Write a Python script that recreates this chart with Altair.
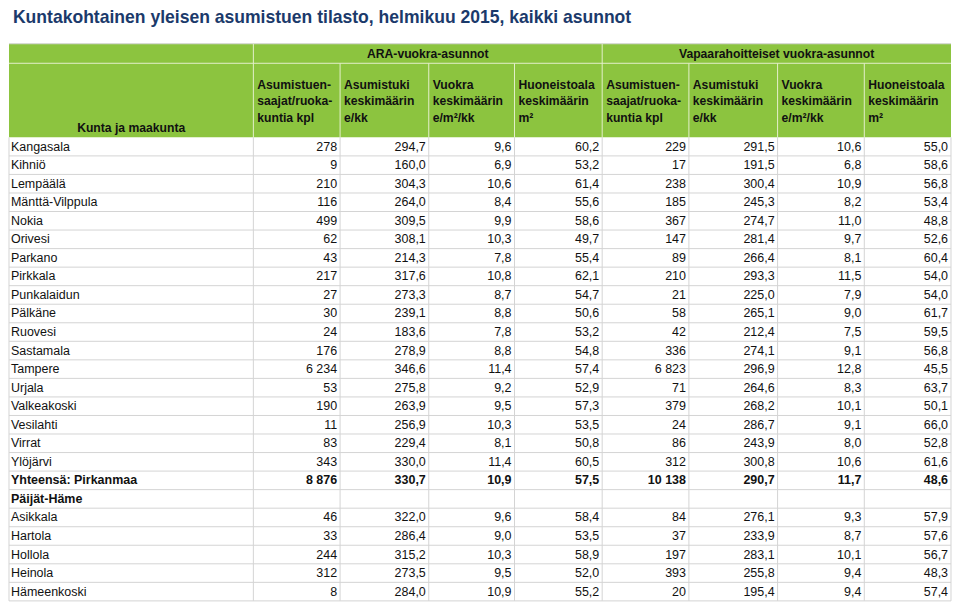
import altair as alt
import pandas as pd

# ---------------- data ----------------
title = "Kuntakohtainen yleisen asumistuen tilasto, helmikuu 2015, kaikki asunnot"
group_titles = ["ARA-vuokra-asunnot", "Vapaarahoitteiset vuokra-asunnot"]
first_header = "Kunta ja maakunta"
col_headers = [
    ["Asumistuen-", "saajat/ruoka-", "kuntia kpl"],
    ["Asumistuki", "keskimäärin", "e/kk"],
    ["Vuokra", "keskimäärin", "e/m²/kk"],
    ["Huoneistoala", "keskimäärin", "m²"],
]

names = ["Kangasala", "Kihniö", "Lempäälä", "Mänttä-Vilppula", "Nokia", "Orivesi",
         "Parkano", "Pirkkala", "Punkalaidun", "Pälkäne", "Ruovesi", "Sastamala",
         "Tampere", "Urjala", "Valkeakoski", "Vesilahti", "Virrat", "Ylöjärvi",
         "Yhteensä: Pirkanmaa", "Päijät-Häme", "Asikkala", "Hartola", "Hollola",
         "Heinola", "Hämeenkoski"]
ara_kpl = [278, 9, 210, 116, 499, 62, 43, 217, 27, 30, 24, 176, 6234, 53, 190, 11, 83, 343,
           8876, None, 46, 33, 244, 312, 8]
ara_tuki = [294.7, 160.0, 304.3, 264.0, 309.5, 308.1, 214.3, 317.6, 273.3, 239.1, 183.6, 278.9,
            346.6, 275.8, 263.9, 256.9, 229.4, 330.0, 330.7, None, 322.0, 286.4, 315.2, 273.5, 284.0]
ara_vuokra = [9.6, 6.9, 10.6, 8.4, 9.9, 10.3, 7.8, 10.8, 8.7, 8.8, 7.8, 8.8, 11.4, 9.2, 9.5,
              10.3, 8.1, 11.4, 10.9, None, 9.6, 9.0, 10.3, 9.5, 10.9]
ara_ala = [60.2, 53.2, 61.4, 55.6, 58.6, 49.7, 55.4, 62.1, 54.7, 50.6, 53.2, 54.8, 57.4, 52.9,
           57.3, 53.5, 50.8, 60.5, 57.5, None, 58.4, 53.5, 58.9, 52.0, 55.2]
vapaa_kpl = [229, 17, 238, 185, 367, 147, 89, 210, 21, 58, 42, 336, 6823, 71, 379, 24, 86, 312,
             10138, None, 84, 37, 197, 393, 20]
vapaa_tuki = [291.5, 191.5, 300.4, 245.3, 274.7, 281.4, 266.4, 293.3, 225.0, 265.1, 212.4, 274.1,
              296.9, 264.6, 268.2, 286.7, 243.9, 300.8, 290.7, None, 276.1, 233.9, 283.1, 255.8, 195.4]
vapaa_vuokra = [10.6, 6.8, 10.9, 8.2, 11.0, 9.7, 8.1, 11.5, 7.9, 9.0, 7.5, 9.1, 12.8, 8.3, 10.1,
                9.1, 8.0, 10.6, 11.7, None, 9.3, 8.7, 10.1, 9.4, 9.4]
vapaa_ala = [55.0, 58.6, 56.8, 53.4, 48.8, 52.6, 60.4, 54.0, 54.0, 61.7, 59.5, 56.8, 45.5, 63.7,
             50.1, 66.0, 52.8, 61.6, 48.6, None, 57.9, 57.6, 56.7, 48.3, 57.4]
bold_rows = ["Yhteensä: Pirkanmaa", "Päijät-Häme"]

columns = [ara_kpl, ara_tuki, ara_vuokra, ara_ala, vapaa_kpl, vapaa_tuki, vapaa_vuokra, vapaa_ala]
is_count = [True, False, False, False, True, False, False, False]

# ---------------- layout ----------------
W, H = 944, 592
col_edges = [2, 250, 338, 428, 515, 604, 692, 782, 870, 958]
TOP, MID, HEAD_B = 38, 58, 134
ROW_H = 19.02
N = len(names)
BOTTOM = HEAD_B + N * ROW_H

GREEN = "#8cc43f"
HEAD_LINE = "#e4efcb"
GRID = "#d4d4d4"
NAVY = "#1b3a6b"
FONT = "Liberation Sans"

xs = alt.Scale(domain=[2, 958], nice=False, zero=False)
ys = alt.Scale(domain=[4, 610], nice=False, zero=False, reverse=True)


def fmt(v, count):
    if v is None:
        return ""
    if count:
        return f"{int(v):,}".replace(",", " ")
    return f"{v:.1f}".replace(".", ",")


def text_layer(df, align, bold, size, color="#111111"):
    return alt.Chart(df).mark_text(
        align=align, baseline="middle", font=FONT, fontSize=size,
        fontWeight="bold" if bold else "normal", color=color
    ).encode(
        x=alt.X("x:Q", scale=xs, axis=None),
        y=alt.Y("y:Q", scale=ys, axis=None),
        text="t:N",
    )


# header background
bg = pd.DataFrame([{"x": col_edges[0], "x2": col_edges[-1], "y": TOP, "y2": HEAD_B}])
bg_layer = alt.Chart(bg).mark_rect(color=GREEN).encode(
    x=alt.X("x:Q", scale=xs, axis=None), x2="x2:Q",
    y=alt.Y("y:Q", scale=ys, axis=None), y2="y2:Q",
)

# lines
lines = []
lines.append(dict(x=col_edges[0], x2=col_edges[-1], y=TOP, y2=TOP, c=GRID))
lines.append(dict(x=col_edges[0], x2=col_edges[-1], y=MID, y2=MID, c=HEAD_LINE))
for e in col_edges[1:-1]:
    y_start = TOP if e in (250, 604) else MID
    lines.append(dict(x=e, x2=e, y=y_start, y2=HEAD_B, c=HEAD_LINE))
for k in range(1, N + 1):
    yy = HEAD_B + k * ROW_H
    lines.append(dict(x=col_edges[0], x2=col_edges[-1], y=yy, y2=yy, c=GRID))
for e in col_edges:
    lines.append(dict(x=e, x2=e, y=HEAD_B, y2=BOTTOM, c=GRID))
lines_df = pd.DataFrame(lines)
line_layer = alt.Chart(lines_df).mark_rule(strokeWidth=1).encode(
    x=alt.X("x:Q", scale=xs, axis=None), x2="x2:Q",
    y=alt.Y("y:Q", scale=ys, axis=None), y2="y2:Q",
    color=alt.Color("c:N", scale=None),
)

# title
title_df = pd.DataFrame([{"x": 6, "y": 11.5, "t": title}])
title_layer = text_layer(title_df, "left", True, 17.6, NAVY)

# header texts
head_center = [
    {"x": (col_edges[1] + col_edges[5]) / 2, "y": 48, "t": group_titles[0]},
    {"x": (col_edges[5] + col_edges[9]) / 2, "y": 48, "t": group_titles[1]},
    {"x": (col_edges[0] + col_edges[1]) / 2, "y": 124, "t": first_header},
]
head_left = []
line_y = [80, 97, 114]
for c in range(8):
    for j, txt in enumerate(col_headers[c % 4]):
        head_left.append({"x": col_edges[c + 1] + 4, "y": line_y[j], "t": txt})
head_center_layer = text_layer(pd.DataFrame(head_center), "center", True, 12.2)
head_left_layer = text_layer(pd.DataFrame(head_left), "left", True, 12.2)

# body texts
name_norm, name_bold, num_norm, num_bold = [], [], [], []
for i, nm in enumerate(names):
    yc = HEAD_B + (i + 0.5) * ROW_H
    bold = nm in bold_rows
    (name_bold if bold else name_norm).append({"x": 4, "y": yc, "t": nm})
    for c in range(8):
        s = fmt(columns[c][i], is_count[c])
        if s:
            (num_bold if bold else num_norm).append(
                {"x": col_edges[c + 2] - 3, "y": yc, "t": s})

layers = [
    bg_layer, line_layer, title_layer, head_center_layer, head_left_layer,
    text_layer(pd.DataFrame(name_norm), "left", False, 12.5),
    text_layer(pd.DataFrame(name_bold), "left", True, 12.5),
    text_layer(pd.DataFrame(num_norm), "right", False, 12.5),
    text_layer(pd.DataFrame(num_bold), "right", True, 12.5),
]

chart = alt.layer(*layers).properties(
    width=W, height=H, padding=0, background="white"
).configure_view(stroke=None)

chart.save("out.html", embed_options={"renderer": "svg", "actions": False})
